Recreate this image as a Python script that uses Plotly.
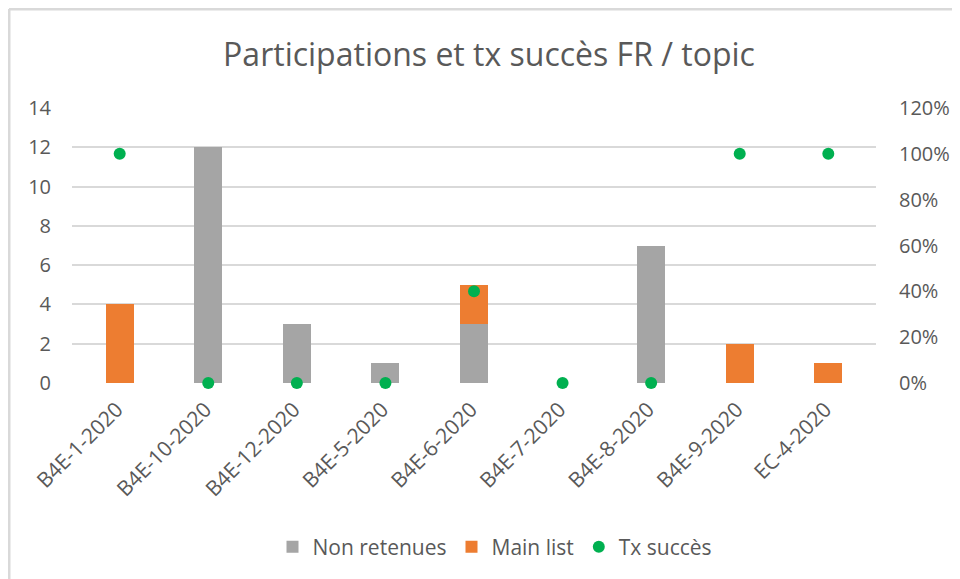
import plotly.graph_objects as go

categories = ["B4E-1-2020", "B4E-10-2020", "B4E-12-2020", "B4E-5-2020", "B4E-6-2020",
              "B4E-7-2020", "B4E-8-2020", "B4E-9-2020", "EC-4-2020"]
non_retenues = [0, 12, 3, 1, 3, 0, 7, 0, 0]
main_list = [4, 0, 0, 0, 2, 0, 0, 2, 1]
tx_succes = [1.0, 0.0, 0.0, 0.0, 0.4, 0.0, 0.0, 1.0, 1.0]

left_ticks = [0, 2, 4, 6, 8, 10, 12, 14]
right_ticks = [0, 0.2, 0.4, 0.6, 0.8, 1.0, 1.2]

FONT = "Open Sans"
TXT = "#595959"
GRID = "#d9d9d9"

# the page body has an 8px margin; figure drawn at 952x571 so it ends at the window edge
OFF = 8
W, H = 960 - OFF, 579 - OFF

fig = go.Figure()
fig.add_trace(go.Bar(x=categories, y=non_retenues, name="Non retenues",
                     marker=dict(color="#a5a5a5", line=dict(width=0)), width=0.315))
fig.add_trace(go.Bar(x=categories, y=main_list, name="Main list",
                     marker=dict(color="#ed7d31", line=dict(width=0)), width=0.315))
fig.add_trace(go.Scatter(x=categories, y=tx_succes, name="Tx succès", yaxis="y2",
                         mode="markers", marker=dict(color="#00b050", size=12),
                         cliponaxis=False))

# plot area in window pixels: x 72..876, y 108..383
PL, PR, PT, PB = 72 - OFF, 876 - OFF, 108 - OFF, 383 - OFF

def px_x(p):
    return (p - OFF - PL) / float(PR - PL)

def px_y(p):
    return (PB - (p - OFF)) / float(PB - PT)

fig.update_layout(
    width=W, height=H,
    margin=dict(l=PL, r=W - PR, t=PT, b=H - PB, pad=0, autoexpand=False),
    barmode="stack",
    paper_bgcolor="white", plot_bgcolor="white",
    font=dict(family=FONT, color=TXT, size=20),
    title=dict(text="Participations et tx succès FR / topic",
               x=(489 - OFF) / W, xanchor="center",
               y=1 - (55 - OFF) / H, yanchor="middle", automargin=False,
               font=dict(family=FONT, size=32, color=TXT)),
    xaxis=dict(type="category", tickangle=-45, showgrid=False, zeroline=False,
               showline=False, ticks="", automargin=False,
               ticklabelstandoff=9, ticklabelshift=-3,
               tickfont=dict(size=21, color=TXT)),
    yaxis=dict(range=[0, 14], tickvals=left_ticks, showgrid=True, gridcolor=GRID,
               gridwidth=1.5, zeroline=False, showline=False, ticks="", automargin=False,
               ticklabelstandoff=20, tickfont=dict(size=20, color=TXT)),
    yaxis2=dict(range=[0, 1.2], tickvals=right_ticks, tickformat=".0%", overlaying="y",
                side="right", showgrid=False, zeroline=False, showline=False, ticks="",
                automargin=False, ticklabelstandoff=22, tickfont=dict(size=20, color=TXT)),
    legend=dict(orientation="h", x=px_x(495), xanchor="center", y=px_y(547), yanchor="middle",
                font=dict(size=21, color=TXT), traceorder="normal",
                itemwidth=30, bgcolor="rgba(0,0,0,0)"),
    showlegend=True,
    shapes=[
        dict(type="line", xref="paper", yref="paper", x0=px_x(9), x1=px_x(970),
             y0=px_y(9), y1=px_y(9), line=dict(color=GRID, width=3)),
        dict(type="line", xref="paper", yref="paper", x0=px_x(9), x1=px_x(9),
             y0=px_y(9), y1=px_y(590), line=dict(color=GRID, width=3)),
    ],
)

fig.write_html("out.html")
